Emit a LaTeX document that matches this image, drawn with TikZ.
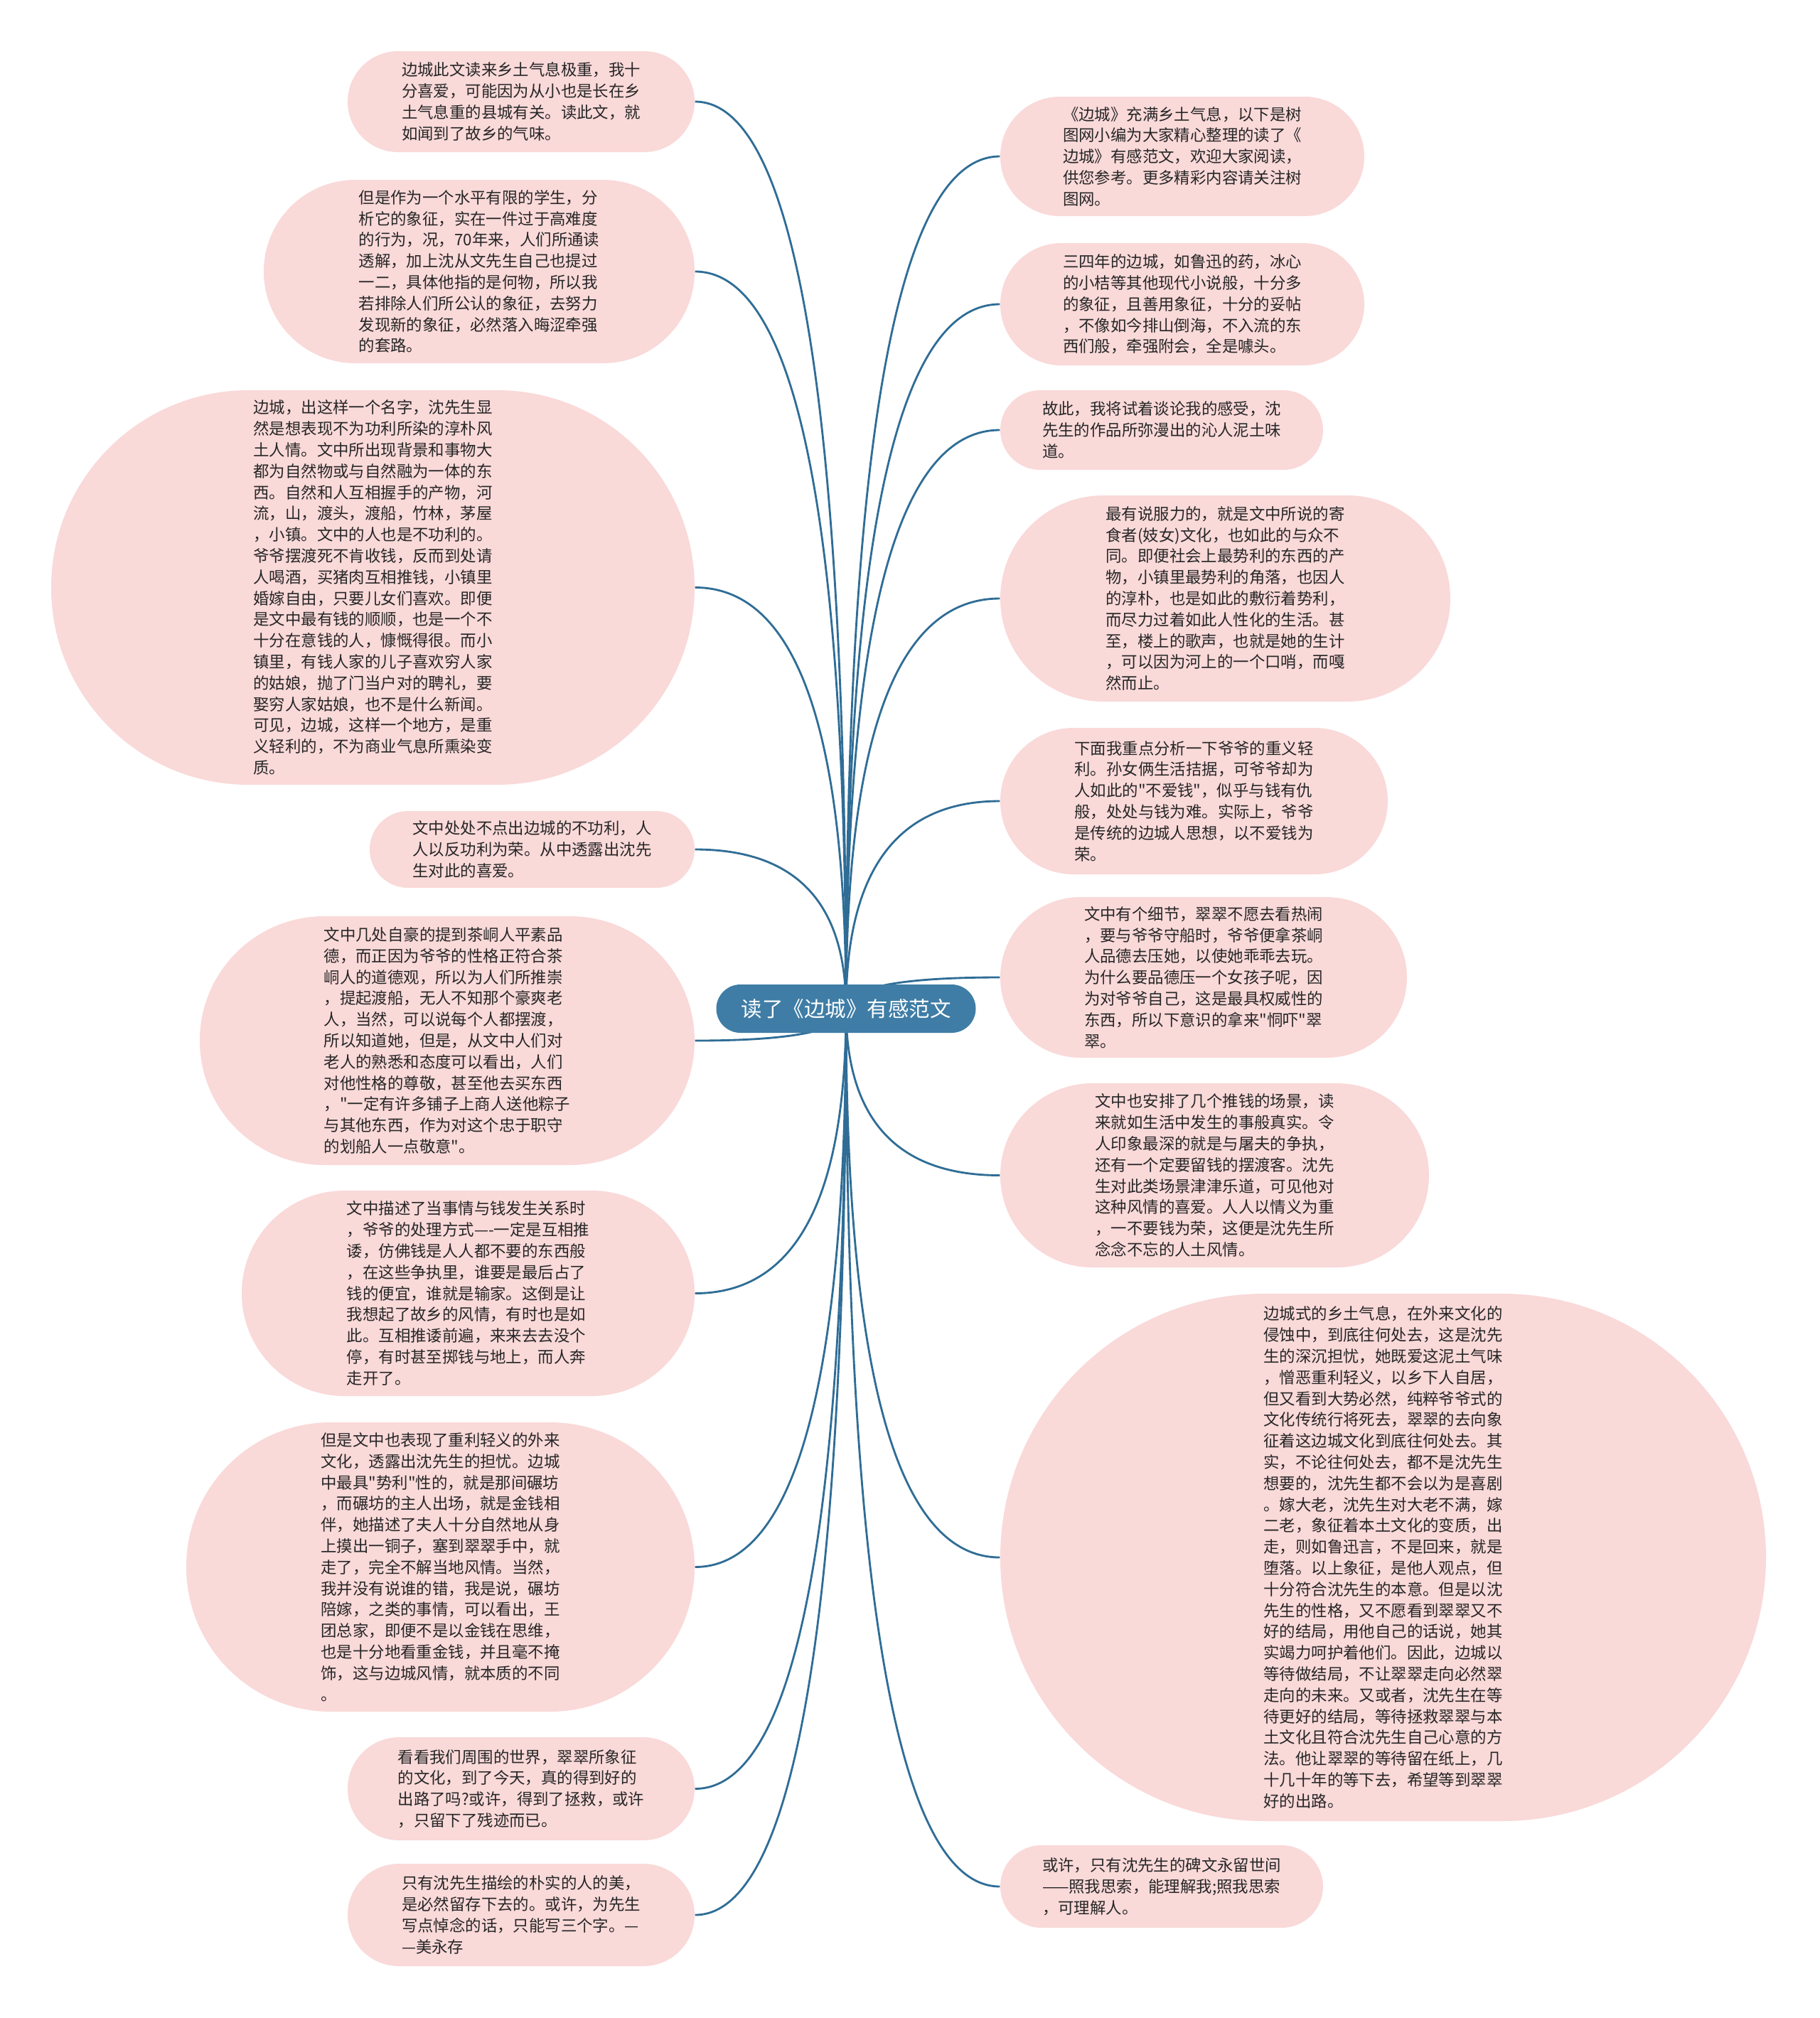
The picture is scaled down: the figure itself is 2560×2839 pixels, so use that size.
\documentclass[tikz,border=0pt]{standalone}
\usepackage{fontspec}
\newfontfamily\cjk{Noto Sans CJK SC}
\usetikzlibrary{shapes.misc,backgrounds,calc}
\definecolor{pinkfill}{HTML}{FAD9D9}
\definecolor{hubblue}{HTML}{3F7DA6}
\definecolor{linkblue}{HTML}{2F6D96}
\tikzset{
  leaf/.style={rounded rectangle, fill=pinkfill, inner sep=0pt, align=left,
    font=\cjk\fontsize{6.72}{8.94}\selectfont, text=black!85},
  pillwh/.style 2 args={minimum width={#1*0.3pt}, minimum height={#2*0.3pt}},
  hub/.style={rounded rectangle, fill=hubblue, text=white, inner sep=0pt,
    font=\cjk\fontsize{8.85}{10}\selectfont,
    minimum width={365*0.3pt}, minimum height={68*0.3pt}},
  link/.style={draw=linkblue, line width=0.85pt}}
\newcommand\linkL[1]{\draw[link] (hub.center) .. controls ($(hub.center)!0.6667!(hub.center|-#1.east)$) and ($(#1.east)!0.6667!(hub.center|-#1.east)$) .. (#1.east);}
\newcommand\linkR[1]{\draw[link] (hub.center) .. controls ($(hub.center)!0.6667!(hub.center|-#1.west)$) and ($(#1.west)!0.6667!(hub.center|-#1.west)$) .. (#1.west);}
\begin{document}
\begin{tikzpicture}[x=0.3pt,y=-0.3pt]
\useasboundingbox (0,0) rectangle (2560,2839);

\node[hub] (hub) at (1190,1419) {读了《边城》有感范文};

% left side
\node[leaf, pillwh={488}{142}] (L1) at (733,143) {边城此文读来乡土气息极重，我十\\分喜爱，可能因为从小也是长在乡\\土气息重的县城有关。读此文，就\\如闻到了故乡的气味。};
\node[leaf, pillwh={606}{258}] (L2) at (674,382) {但是作为一个水平有限的学生，分\\析它的象征，实在一件过于高难度\\的行为，况，70年来，人们所通读\\透解，加上沈从文先生自己也提过\\一二，具体他指的是何物，所以我\\若排除人们所公认的象征，去努力\\发现新的象征，必然落入晦涩牵强\\的套路。};
\node[leaf, pillwh={905}{555}] (L3) at (524.5,826.5) {边城，出这样一个名字，沈先生显\\然是想表现不为功利所染的淳朴风\\土人情。文中所出现背景和事物大\\都为自然物或与自然融为一体的东\\西。自然和人互相握手的产物，河\\流，山，渡头，渡船，竹林，茅屋\\，小镇。文中的人也是不功利的。\\爷爷摆渡死不肯收钱，反而到处请\\人喝酒，买猪肉互相推钱，小镇里\\婚嫁自由，只要儿女们喜欢。即便\\是文中最有钱的顺顺，也是一个不\\十分在意钱的人，慷慨得很。而小\\镇里，有钱人家的儿子喜欢穷人家\\的姑娘，抛了门当户对的聘礼，要\\娶穷人家姑娘，也不是什么新闻。\\可见，边城，这样一个地方，是重\\义轻利的，不为商业气息所熏染变\\质。};
\node[leaf, pillwh={457}{108}] (L4) at (748.5,1195) {文中处处不点出边城的不功利，人\\人以反功利为荣。从中透露出沈先\\生对此的喜爱。};
\node[leaf, pillwh={696}{350}] (L5) at (629,1464) {文中几处自豪的提到茶峒人平素品\\德，而正因为爷爷的性格正符合茶\\峒人的道德观，所以为人们所推崇\\，提起渡船，无人不知那个豪爽老\\人，当然，可以说每个人都摆渡，\\所以知道她，但是，从文中人们对\\老人的熟悉和态度可以看出，人们\\对他性格的尊敬，甚至他去买东西\\，"一定有许多铺子上商人送他粽子\\与其他东西，作为对这个忠于职守\\的划船人一点敬意"。};
\node[leaf, pillwh={637}{289}] (L6) at (658.5,1819.5) {文中描述了当事情与钱发生关系时\\，爷爷的处理方式—-一定是互相推\\诿，仿佛钱是人人都不要的东西般\\，在这些争执里，谁要是最后占了\\钱的便宜，谁就是输家。这倒是让\\我想起了故乡的风情，有时也是如\\此。互相推诿前遍，来来去去没个\\停，有时甚至掷钱与地上，而人奔\\走开了。};
\node[leaf, pillwh={715}{407}] (L7) at (619.5,2204.5) {但是文中也表现了重利轻义的外来\\文化，透露出沈先生的担忧。边城\\中最具"势利"性的，就是那间碾坊\\，而碾坊的主人出场，就是金钱相\\伴，她描述了夫人十分自然地从身\\上摸出一铜子，塞到翠翠手中，就\\走了，完全不解当地风情。当然，\\我并没有说谁的错，我是说，碾坊\\陪嫁，之类的事情，可以看出，王\\团总家，即便不是以金钱在思维，\\也是十分地看重金钱，并且毫不掩\\饰，这与边城风情，就本质的不同\\。};
\node[leaf, pillwh={488}{145}] (L8) at (733,2516.5) {看看我们周围的世界，翠翠所象征\\的文化，到了今天，真的得到好的\\出路了吗?或许，得到了拯救，或许\\，只留下了残迹而已。};
\node[leaf, pillwh={488}{144}] (L9) at (733,2694) {只有沈先生描绘的朴实的人的美，\\是必然留存下去的。或许，为先生\\写点悼念的话，只能写三个字。—\\—美永存};

% right side
\node[leaf, pillwh={512}{168}] (R1) at (1663,220) {《边城》充满乡土气息，以下是树\\图网小编为大家精心整理的读了《\\边城》有感范文，欢迎大家阅读，\\供您参考。更多精彩内容请关注树\\图网。};
\node[leaf, pillwh={512}{172}] (R2) at (1663,428) {三四年的边城，如鲁迅的药，冰心\\的小桔等其他现代小说般，十分多\\的象征，且善用象征，十分的妥帖\\，不像如今排山倒海，不入流的东\\西们般，牵强附会，全是噱头。};
\node[leaf, pillwh={454}{112}] (R3) at (1634,605) {故此，我将试着谈论我的感受，沈\\先生的作品所弥漫出的沁人泥土味\\道。};
\node[leaf, pillwh={633}{290}] (R4) at (1723.5,842) {最有说服力的，就是文中所说的寄\\食者(妓女)文化，也如此的与众不\\同。即便社会上最势利的东西的产\\物，小镇里最势利的角落，也因人\\的淳朴，也是如此的敷衍着势利，\\而尽力过着如此人性化的生活。甚\\至，楼上的歌声，也就是她的生计\\，可以因为河上的一个口哨，而嘎\\然而止。};
\node[leaf, pillwh={545}{206}] (R5) at (1679.5,1127) {下面我重点分析一下爷爷的重义轻\\利。孙女俩生活拮据，可爷爷却为\\人如此的"不爱钱"，似乎与钱有仇\\般，处处与钱为难。实际上，爷爷\\是传统的边城人思想，以不爱钱为\\荣。};
\node[leaf, pillwh={572}{226}] (R6) at (1693,1375) {文中有个细节，翠翠不愿去看热闹\\，要与爷爷守船时，爷爷便拿茶峒\\人品德去压她，以使她乖乖去玩。\\为什么要品德压一个女孩子呢，因\\为对爷爷自己，这是最具权威性的\\东西，所以下意识的拿来"恫吓"翠\\翠。};
\node[leaf, pillwh={603}{259}] (R7) at (1708.5,1653.5) {文中也安排了几个推钱的场景，读\\来就如生活中发生的事般真实。令\\人印象最深的就是与屠夫的争执，\\还有一个定要留钱的摆渡客。沈先\\生对此类场景津津乐道，可见他对\\这种风情的喜爱。人人以情义为重\\，一不要钱为荣，这便是沈先生所\\念念不忘的人土风情。};
\node[leaf, pillwh={1077}{742}] (R8) at (1945.5,2191) {边城式的乡土气息，在外来文化的\\侵蚀中，到底往何处去，这是沈先\\生的深沉担忧，她既爱这泥土气味\\，憎恶重利轻义，以乡下人自居，\\但又看到大势必然，纯粹爷爷式的\\文化传统行将死去，翠翠的去向象\\征着这边城文化到底往何处去。其\\实，不论往何处去，都不是沈先生\\想要的，沈先生都不会以为是喜剧\\。嫁大老，沈先生对大老不满，嫁\\二老，象征着本土文化的变质，出\\走，则如鲁迅言，不是回来，就是\\堕落。以上象征，是他人观点，但\\十分符合沈先生的本意。但是以沈\\先生的性格，又不愿看到翠翠又不\\好的结局，用他自己的话说，她其\\实竭力呵护着他们。因此，边城以\\等待做结局，不让翠翠走向必然翠\\走向的未来。又或者，沈先生在等\\待更好的结局，等待拯救翠翠与本\\土文化且符合沈先生自己心意的方\\法。他让翠翠的等待留在纸上，几\\十几十年的等下去，希望等到翠翠\\好的出路。};
\node[leaf, pillwh={454}{116}] (R9) at (1634,2654) {或许，只有沈先生的碑文永留世间\\——照我思索，能理解我;照我思索\\，可理解人。};

\begin{scope}[on background layer]
\fill[white] (0,0) rectangle (2560,2839);
\foreach \n in {L1,L2,L3,L4,L5,L6,L7,L8,L9} {\linkL{\n}}
\foreach \n in {R1,R2,R3,R4,R5,R6,R7,R8,R9} {\linkR{\n}}
\end{scope}
\end{tikzpicture}
\end{document}
